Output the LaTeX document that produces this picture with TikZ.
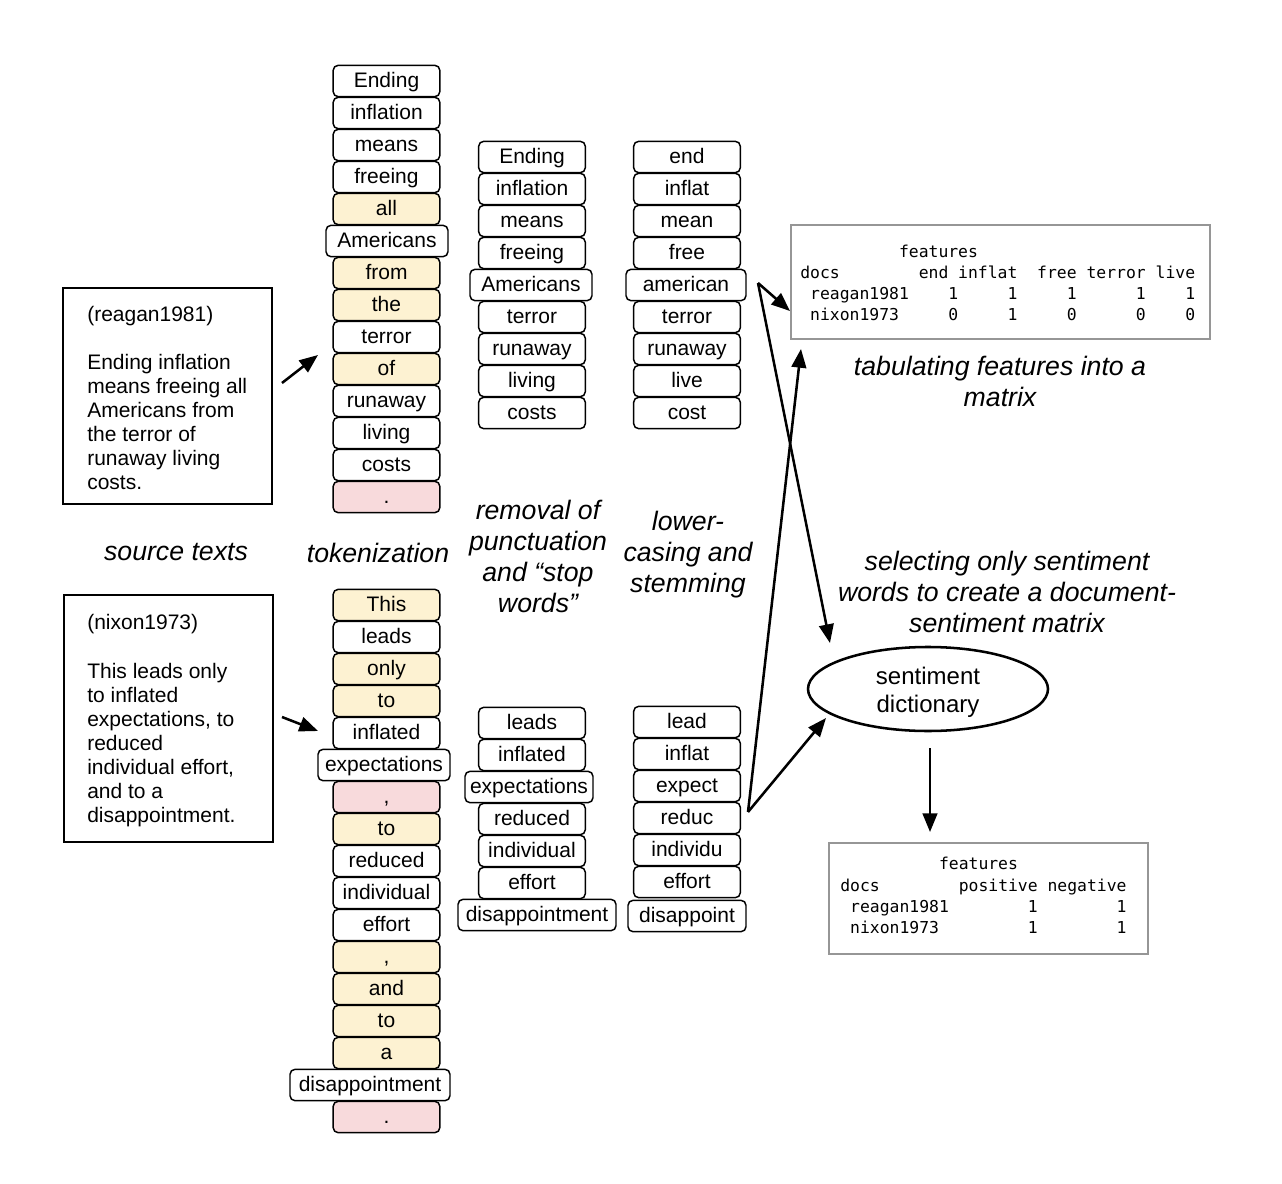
\documentclass[tikz,border=0pt]{standalone}
\usepackage{fontspec}
\setmainfont{Liberation Sans}
\setmonofont{DejaVu Sans Mono}
\usetikzlibrary{arrows.meta,shapes.geometric}
\definecolor{tokyellow}{RGB}{253,242,210}
\definecolor{tokpink}{RGB}{248,218,220}
\definecolor{mgray}{RGB}{150,150,150}
\begin{document}
\begin{tikzpicture}[x=0.75pt,y=-0.75pt,
 tok/.style={draw, rounded corners=3.75pt, line width=1.1pt, minimum height=23.5pt, minimum width=80pt, inner sep=0pt,
   text height=12.4pt, text depth=2.2pt, font=\fontsize{15.75pt}{18pt}\selectfont},
 stopw/.style={tok, fill=tokyellow},
 punct/.style={tok, fill=tokpink},
 srcbox/.style={draw, line width=2.2pt, inner sep=0pt},
 srctext/.style={anchor=north west, align=left, inner sep=0pt, font=\fontsize{15.75pt}{18pt}\selectfont},
 lab/.style={align=center, inner sep=0pt, font=\fontsize{20pt}{23.25pt}\itshape\selectfont},
 mbox/.style={draw=mgray, line width=1.9pt, inner sep=0pt},
 mrow/.style={anchor=base west, inner sep=0pt, font=\fontsize{12.3pt}{15pt}\ttfamily\selectfont},
 arr/.style={line width=1.9pt, -{Triangle[length=14pt,width=11pt]}},
]
\useasboundingbox (0,0) rectangle (1282,1184);

% source texts
\node[srcbox, minimum width=156.75pt, minimum height=162pt] (src1) at (167.5,396) {};
\node[srctext] (src1t) at (87,306.5) {(reagan1981)\\[18pt]Ending inflation\\means freeing all\\Americans from\\the terror of\\runaway living\\costs.};
\node[srcbox, minimum width=156.75pt, minimum height=185.25pt] (src2) at (168.5,718.5) {};
\node[srctext] (src2t) at (87,614.5) {(nixon1973)\\[18.6pt]This leads only\\to inflated\\expectations, to\\reduced\\individual effort,\\and to a\\disappointment.};

% tokenization: reagan
\node[tok] (r1) at (386.5,81) {Ending};
\node[tok] (r2) at (386.5,113) {inflation};
\node[tok] (r3) at (386.5,145) {means};
\node[tok] (r4) at (386.5,177) {freeing};
\node[stopw] (r5) at (386.5,209) {all};
\node[tok, minimum width=91.5pt] (r6) at (387,241) {Americans};
\node[stopw] (r7) at (386.5,273) {from};
\node[stopw] (r8) at (386.5,305) {the};
\node[tok] (r9) at (386.5,337) {terror};
\node[stopw] (r10) at (386.5,369) {of};
\node[tok] (r11) at (386.5,401) {runaway};
\node[tok] (r12) at (386.5,433) {living};
\node[tok] (r13) at (386.5,465) {costs};
\node[punct] (r14) at (386.5,497) {.};

% tokenization: nixon
\node[stopw] (n1) at (386.5,605) {This};
\node[tok] (n2) at (386.5,637) {leads};
\node[stopw] (n3) at (386.5,669) {only};
\node[stopw] (n4) at (386.5,701) {to};
\node[tok] (n5) at (386.5,733) {inflated};
\node[tok, minimum width=99pt] (n6) at (384,765) {expectations};
\node[punct] (n7) at (386.5,797) {,};
\node[stopw] (n8) at (386.5,829) {to};
\node[tok] (n9) at (386.5,861) {reduced};
\node[tok] (n10) at (386.5,893) {individual};
\node[tok] (n11) at (386.5,925) {effort};
\node[stopw] (n12) at (386.5,957) {,};
\node[stopw] (n13) at (386.5,989) {and};
\node[stopw] (n14) at (386.5,1021) {to};
\node[stopw] (n15) at (386.5,1053) {a};
\node[tok, minimum width=120pt] (n16) at (370,1085) {disappointment};
\node[punct] (n17) at (386.5,1117) {.};

% removal of punctuation and stop words
\begin{scope}[every node/.append style={minimum width=78pt}]
\node[tok] (ra1) at (532,157) {Ending};
\node[tok] (ra2) at (532,189) {inflation};
\node[tok] (ra3) at (532,221) {means};
\node[tok] (ra4) at (532,253) {freeing};
\node[tok, minimum width=91.5pt] (ra5) at (531,285) {Americans};
\node[tok] (ra6) at (532,317) {terror};
\node[tok] (ra7) at (532,349) {runaway};
\node[tok] (ra8) at (532,381) {living};
\node[tok] (ra9) at (532,413) {costs};
\node[tok] (na1) at (532,723) {leads};
\node[tok] (na2) at (532,755) {inflated};
\node[tok, minimum width=96pt] (na3) at (529,787) {expectations};
\node[tok] (na4) at (532,819) {reduced};
\node[tok] (na5) at (532,851) {individual};
\node[tok] (na6) at (532,883) {effort};
\node[tok, minimum width=118.5pt] (na7) at (537,915) {disappointment};
\end{scope}

% lowercasing and stemming
\begin{scope}[every node/.append style={minimum width=79.5pt}]
\node[tok] (rb1) at (687,157) {end};
\node[tok] (rb2) at (687,189) {inflat};
\node[tok] (rb3) at (687,221) {mean};
\node[tok] (rb4) at (687,253) {free};
\node[tok, minimum width=90pt] (rb5) at (686,285) {american};
\node[tok] (rb6) at (687,317) {terror};
\node[tok] (rb7) at (687,349) {runaway};
\node[tok] (rb8) at (687,381) {live};
\node[tok] (rb9) at (687,413) {cost};
\node[tok] (nb1) at (687,722) {lead};
\node[tok] (nb2) at (687,754) {inflat};
\node[tok] (nb3) at (687,786) {expect};
\node[tok] (nb4) at (687,818) {reduc};
\node[tok] (nb5) at (687,850) {individu};
\node[tok] (nb6) at (687,882) {effort};
\node[tok, minimum width=88.5pt] (nb7) at (687,916) {disappoint};
\end{scope}

% labels
\node[lab] (l1) at (176,552) {source texts};
\node[lab] (l2) at (378,553) {tokenization};
\node[lab] (l3) at (538,556) {removal of\\punctuation\\and “stop\\words”};
\node[lab] (l4) at (688,554.5) {lower-\\casing and\\stemming};
\node[lab] (l5) at (1000,381.5) {tabulating features into a\\matrix};
\node[lab] (l6) at (1007,592) {selecting only sentiment\\words to create a document-\\sentiment matrix};

% matrix 1
\node[mbox, minimum width=314.25pt, minimum height=85.5pt] (m1) at (1000.5,282) {};
\node[mrow] (m1a) at (800,257.5) {~~~~~~~~~~features};
\node[mrow] (m1b) at (800,278.5) {docs~~~~~~~~end~inflat~~free~terror~live};
\node[mrow] (m1c) at (800,299.5) {~reagan1981~~~~1~~~~~1~~~~~1~~~~~~1~~~~1};
\node[mrow] (m1d) at (800,320.5) {~nixon1973~~~~~0~~~~~1~~~~~0~~~~~~0~~~~0};

% matrix 2
\node[mbox, minimum width=239.25pt, minimum height=83.25pt] (m2) at (988.5,898.5) {};
\node[mrow] (m2a) at (840,869) {~~~~~~~~~~features};
\node[mrow] (m2b) at (840,891) {docs~~~~~~~~positive~negative};
\node[mrow] (m2c) at (840,912) {~reagan1981~~~~~~~~1~~~~~~~~1};
\node[mrow] (m2d) at (840,933) {~nixon1973~~~~~~~~~1~~~~~~~~1};

% sentiment dictionary
\node[draw, ellipse, line width=1.9pt, minimum width=180pt, minimum height=63pt, inner sep=0pt] (dict) at (928,689) {};
\node[align=center, inner sep=0pt, font=\fontsize{18pt}{21pt}\selectfont] (dictt) at (928,692) {sentiment\\dictionary};

% arrows
\coordinate (p1) at (282,383); \coordinate (q1) at (318,355);
\coordinate (p2) at (282,717); \coordinate (q2) at (318,731);
\coordinate (p3) at (758,283); \coordinate (q3) at (790,311);
\coordinate (q4) at (830,643);
\coordinate (p5) at (748,812); \coordinate (q5) at (801,349);
\coordinate (q6) at (826,718);
\coordinate (p7) at (930,748); \coordinate (q7) at (930,832);
\draw[arr] (p1) -- (q1);
\draw[arr] (p2) -- (q2);
\draw[arr] (p3) -- (q3);
\draw[arr] (p3) -- (q4);
\draw[arr] (p5) -- (q5);
\draw[arr] (p5) -- (q6);
\draw[arr] (p7) -- (q7);
\end{tikzpicture}
\end{document}
